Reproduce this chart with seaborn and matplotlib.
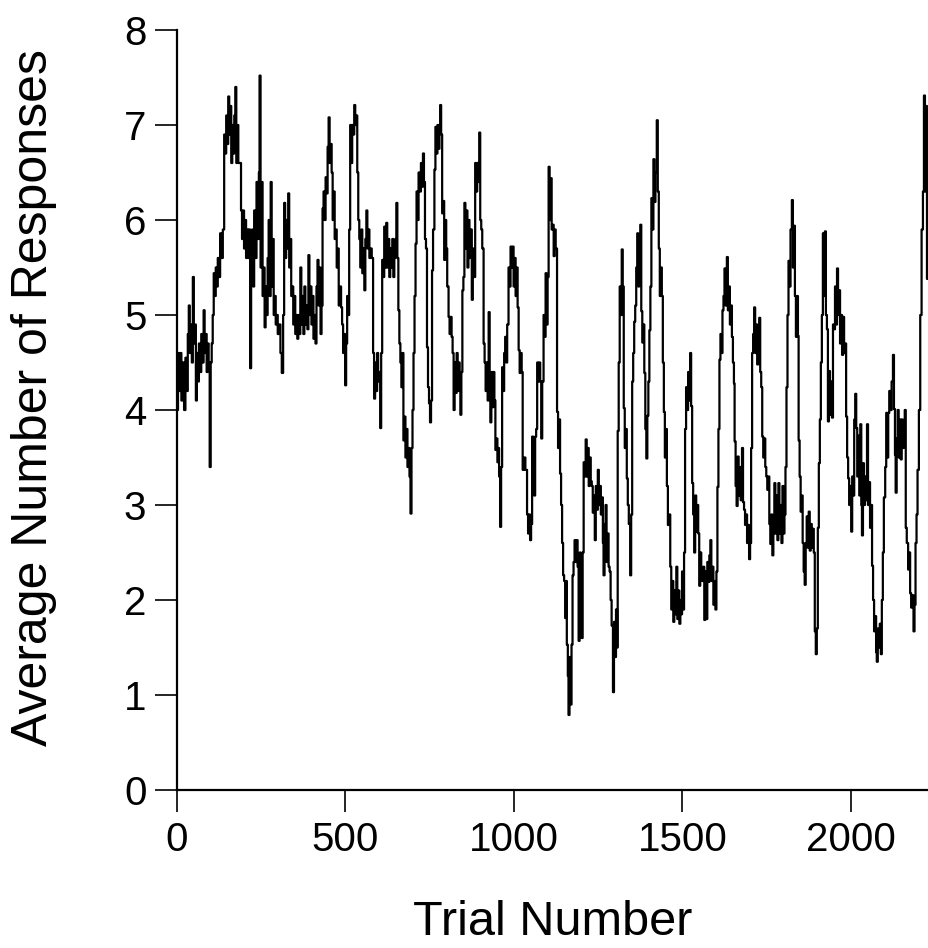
import matplotlib
matplotlib.use("Agg")
import matplotlib.pyplot as plt
import seaborn as sns
import pandas as pd

# ---- data (trial number, average number of responses) ----
trials_a = [0, 3, 7, 10, 13, 17, 21, 25, 29, 32, 35, 38, 41, 44, 47, 50, 53, 56, 59, 62, 65, 68, 72, 75, 79, 82, 85, 88, 91, 94, 97, 100, 103, 106, 109, 112, 115, 118, 121, 124, 128, 132, 136, 140, 143, 146, 149, 152, 155, 158, 161, 164, 167, 170, 173, 176, 179, 182, 186, 190, 193, 196, 199, 202, 205, 208, 211, 214, 217, 220, 223, 226, 229, 232, 236, 240, 243, 245, 248, 251, 254, 257, 260, 263, 266, 269, 272, 275, 278, 281, 284, 287, 290, 293, 296, 299, 303, 307, 311, 315, 318, 321, 324, 327, 330, 333, 336, 339, 342, 345, 348, 351, 354, 357, 360, 363]
resp_a = [4.0, 4.6, 4.2, 4.6, 4.1, 4.5, 4.0, 4.55, 4.2, 4.8, 5.1, 4.6, 4.9, 4.5, 5.4, 4.7, 4.9, 4.1, 4.6, 4.3, 4.7, 4.4, 4.8, 4.5, 5.05, 4.6, 4.8, 4.4, 4.7, 4.5, 3.4, 4.5, 4.7, 5.0, 5.44, 5.2, 5.5, 5.3, 5.6, 5.4, 5.86, 5.6, 5.9, 6.9, 6.7, 7.1, 6.8, 7.3, 6.9, 7.2, 6.6, 7.0, 6.7, 7.1, 7.4, 6.6, 7.0, 6.6, 6.6, 6.1, 5.8, 6.1, 5.7, 6.0, 5.6, 5.9, 5.6, 5.9, 4.44, 5.6, 5.9, 5.3, 6.1, 5.6, 6.4, 5.8, 6.5, 7.52, 5.5, 6.4, 5.2, 5.5, 4.87, 5.3, 5.0, 5.6, 6.0, 5.2, 6.4, 5.3, 5.8, 5.0, 5.2, 4.9, 5.0, 4.8, 4.9, 4.6, 4.39, 5.0, 6.18, 5.6, 6.0, 5.7, 6.28, 5.5, 5.8, 5.2, 5.3, 4.9, 5.2, 4.8, 5.0, 4.75, 5.0, 4.8]

trials_b = [366, 369, 372, 375, 378, 381, 384, 387, 390, 393, 396, 399, 402, 405, 408, 411, 414, 417, 420, 423, 426, 429, 432, 435, 438, 441, 444, 447, 450, 453, 456, 459, 462, 465, 468, 471, 474, 477, 480, 483, 487, 490, 493, 496, 499, 502, 505, 508, 511, 514, 517, 520, 523, 526, 529, 532, 535, 538, 541, 544, 547, 550, 553, 556, 559, 562, 565, 568, 571, 574, 578, 582, 585, 588, 591, 594, 597, 600, 603, 606, 609, 612, 615, 618, 621, 624, 627, 630, 633, 636, 639, 642, 645, 648, 651, 654, 657, 660, 663, 666, 669, 672, 675, 678, 681, 684, 687, 690, 693, 696, 699, 702, 705, 708, 711, 714, 717, 720, 724, 727, 730]
resp_b = [5.5, 4.9, 5.2, 4.8, 5.3, 4.9, 5.1, 4.85, 5.63, 5.0, 5.3, 4.9, 5.2, 4.75, 5.0, 4.7, 5.3, 5.58, 5.1, 5.5, 4.8, 5.1, 6.12, 6.3, 6.0, 6.45, 6.28, 6.77, 7.08, 6.6, 6.8, 6.5, 6.0, 6.3, 5.8, 5.9, 5.5, 5.7, 5.1, 5.3, 5.08, 4.9, 4.6, 4.8, 4.26, 4.7, 5.2, 5.0, 5.9, 7.0, 6.6, 7.0, 6.9, 7.21, 7.0, 7.1, 6.5, 6.0, 5.8, 5.5, 5.9, 5.44, 5.7, 5.26, 5.8, 6.1, 5.7, 5.9, 5.6, 5.7, 5.6, 4.6, 4.12, 4.5, 4.2, 4.6, 4.3, 4.4, 3.81, 4.6, 5.58, 5.4, 5.93, 5.5, 5.97, 5.5, 5.8, 5.4, 5.7, 5.5, 5.8, 5.4, 5.6, 5.8, 6.18, 5.6, 5.05, 4.7, 4.5, 4.24, 4.6, 3.68, 3.93, 3.5, 3.8, 3.4, 3.6, 3.3, 2.91, 3.6, 4.0, 4.6, 5.2, 5.75, 6.3, 6.0, 6.5, 6.3, 6.6, 6.35, 6.7]

trials_c = [733, 736, 739, 742, 745, 748, 751, 754, 757, 760, 764, 767, 770, 773, 776, 779, 781, 784, 787, 790, 793, 796, 799, 802, 806, 809, 812, 815, 818, 821, 824, 827, 830, 833, 836, 839, 841, 844, 847, 850, 853, 856, 859, 862, 865, 868, 871, 875, 878, 881, 885, 888, 891, 894, 897, 900, 903, 906, 910, 913, 916, 919, 922, 925, 928, 930, 933, 936, 939, 942, 945, 948, 951, 954, 956, 959, 962, 965, 968, 971, 974, 977, 980, 984, 987, 990, 993, 996, 999, 1002, 1005, 1008, 1011, 1014, 1017, 1020, 1023, 1026, 1030, 1034, 1039, 1042, 1045, 1048, 1051, 1054, 1057, 1060, 1063, 1066, 1069, 1072, 1075, 1078, 1081, 1084, 1088, 1091, 1094, 1097, 1100]
resp_c = [6.4, 5.8, 5.7, 4.66, 4.24, 4.07, 3.87, 4.1, 5.47, 5.9, 6.53, 6.98, 6.7, 7.0, 6.75, 7.0, 7.21, 6.9, 6.07, 6.2, 5.58, 6.0, 5.7, 5.3, 4.98, 4.8, 4.98, 4.77, 4.6, 4.0, 4.5, 4.18, 4.6, 4.2, 4.5, 4.25, 3.95, 4.4, 5.26, 5.4, 6.18, 5.7, 6.1, 5.5, 6.0, 5.6, 5.9, 5.16, 5.7, 5.4, 6.6, 6.3, 6.6, 6.4, 6.92, 6.0, 5.9, 5.7, 4.7, 4.5, 4.2, 4.5, 4.1, 5.03, 4.3, 3.87, 4.4, 4.03, 4.4, 4.1, 3.58, 3.7, 3.45, 3.6, 3.3, 2.77, 3.4, 4.45, 4.2, 4.6, 4.77, 4.5, 4.9, 5.5, 5.3, 5.72, 5.5, 5.72, 5.3, 5.6, 5.2, 5.5, 5.08, 4.63, 4.39, 4.6, 4.4, 3.37, 3.5, 3.37, 2.9, 2.7, 2.9, 2.63, 2.8, 3.72, 3.3, 3.1, 3.72, 3.8, 4.5, 4.3, 4.5, 4.3, 3.7, 4.3, 5.0, 4.77, 5.44, 4.9, 5.4]

trials_d = [1103, 1106, 1109, 1112, 1115, 1118, 1121, 1124, 1128, 1131, 1134, 1137, 1140, 1143, 1146, 1149, 1152, 1155, 1157, 1160, 1162, 1165, 1168, 1171, 1174, 1177, 1180, 1183, 1186, 1189, 1192, 1195, 1198, 1201, 1204, 1207, 1210, 1213, 1216, 1219, 1222, 1225, 1228, 1231, 1234, 1237, 1240, 1243, 1246, 1249, 1252, 1255, 1258, 1261, 1264, 1266, 1269, 1272, 1275, 1278, 1281, 1284, 1287, 1290, 1294, 1297, 1300, 1303, 1306, 1308, 1311, 1314, 1317, 1320, 1323, 1326, 1329, 1332, 1335, 1338, 1341, 1345, 1348, 1351, 1354, 1357, 1360, 1363, 1366, 1369, 1372, 1375, 1378, 1381, 1384, 1387, 1390, 1393, 1396, 1399, 1402, 1405, 1408, 1411, 1414, 1417, 1420, 1424, 1427, 1430, 1433, 1436, 1439, 1442, 1445, 1448, 1451, 1454, 1457, 1460, 1464, 1467, 1470, 1473, 1476, 1479]
resp_d = [6.56, 6.0, 6.44, 5.9, 5.95, 5.62, 5.9, 5.7, 3.98, 3.6, 3.9, 3.33, 3.0, 2.6, 2.26, 2.2, 1.81, 2.2, 1.53, 1.2, 0.79, 1.4, 0.9, 1.53, 2.26, 2.4, 2.63, 2.4, 2.63, 2.35, 1.57, 2.5, 2.2, 1.6, 2.5, 3.45, 3.3, 3.69, 3.3, 3.6, 3.2, 3.5, 3.25, 3.2, 2.92, 3.1, 2.63, 3.2, 2.95, 3.37, 3.0, 3.2, 2.9, 3.08, 2.6, 2.26, 2.8, 3.0, 2.4, 2.7, 2.35, 2.3, 2.0, 1.73, 1.03, 1.77, 1.4, 1.9, 1.5, 3.78, 4.5, 5.3, 5.0, 5.69, 5.3, 4.02, 3.6, 3.8, 3.28, 3.0, 2.8, 2.26, 2.9, 4.3, 4.6, 4.93, 5.1, 5.5, 5.86, 5.3, 5.6, 5.95, 5.04, 4.71, 4.9, 4.39, 3.8, 3.49, 3.94, 4.3, 4.84, 5.3, 6.23, 5.9, 6.64, 6.19, 6.5, 7.05, 6.3, 5.7, 5.2, 5.5, 5.2, 4.5, 3.98, 3.5, 3.8, 3.2, 2.79, 2.9, 2.35, 1.9, 2.2, 1.77, 2.1, 1.85]

trials_e = [1482, 1485, 1488, 1491, 1494, 1497, 1499, 1502, 1505, 1508, 1511, 1514, 1517, 1520, 1523, 1526, 1529, 1532, 1535, 1538, 1541, 1544, 1547, 1550, 1553, 1556, 1559, 1562, 1565, 1568, 1571, 1574, 1577, 1580, 1583, 1586, 1589, 1592, 1595, 1598, 1601, 1604, 1607, 1610, 1613, 1616, 1619, 1622, 1625, 1628, 1632, 1635, 1638, 1641, 1644, 1647, 1650, 1653, 1655, 1658, 1661, 1664, 1667, 1670, 1673, 1677, 1680, 1683, 1686, 1689, 1692, 1695, 1698, 1701, 1704, 1707, 1710, 1713, 1716, 1719, 1722, 1725, 1728, 1731, 1734, 1737, 1740, 1743, 1746, 1749, 1752, 1755, 1758, 1761, 1764, 1767, 1770, 1773, 1776, 1779, 1782, 1785, 1788, 1791, 1794, 1797, 1800, 1803, 1806, 1809, 1812, 1815, 1818, 1821, 1825, 1828, 1831, 1834, 1837]
resp_e = [2.35, 1.8, 2.1, 1.75, 2.0, 1.85, 2.3, 1.9, 2.5, 3.8, 4.24, 4.0, 4.4, 4.1, 4.6, 4.04, 3.23, 2.9, 2.5, 3.1, 2.72, 3.0, 2.7, 2.15, 2.5, 2.3, 2.2, 2.35, 1.79, 2.3, 1.8, 2.4, 2.19, 2.47, 2.63, 2.2, 2.35, 1.95, 2.2, 1.9, 2.3, 3.19, 3.8, 4.53, 4.8, 4.6, 5.05, 5.2, 5.49, 5.1, 5.61, 5.05, 5.3, 4.9, 5.1, 4.77, 4.5, 4.28, 3.67, 3.2, 2.99, 3.51, 3.1, 3.4, 3.05, 3.6, 3.03, 2.95, 2.79, 2.9, 2.6, 2.79, 2.43, 2.6, 3.6, 4.6, 4.8, 5.08, 4.6, 4.9, 4.48, 4.7, 4.97, 4.4, 4.24, 3.72, 3.5, 3.7, 3.4, 3.3, 3.16, 3.3, 2.8, 2.59, 2.9, 2.47, 2.7, 3.23, 2.7, 3.1, 2.63, 3.23, 2.7, 3.0, 2.6, 3.2, 2.7, 2.9, 3.4, 4.24, 5.0, 5.57, 5.3, 5.9, 6.21, 5.5, 5.94, 5.2, 4.77]

trials_f = [1840, 1843, 1845, 1848, 1851, 1854, 1857, 1860, 1863, 1866, 1869, 1872, 1875, 1878, 1881, 1884, 1887, 1890, 1893, 1896, 1899, 1902, 1905, 1908, 1911, 1914, 1917, 1920, 1923, 1926, 1929, 1932, 1935, 1938, 1941, 1944, 1947, 1950, 1953, 1956, 1959, 1962, 1965, 1968, 1971, 1974, 1977, 1980, 1983, 1986, 1989, 1992, 1995, 1998, 2001, 2004, 2007, 2010, 2013, 2016, 2019, 2022, 2025, 2028, 2031, 2033, 2036, 2039, 2042, 2045, 2048, 2051, 2054, 2057, 2060, 2063, 2066, 2069, 2072, 2075, 2077, 2080, 2083, 2086, 2089, 2092, 2095, 2098, 2102, 2105, 2108, 2111, 2114, 2118, 2121, 2125, 2128, 2131, 2133, 2136, 2139, 2142, 2145, 2148, 2151, 2154, 2157, 2160, 2163, 2166, 2170, 2173, 2176, 2179, 2182, 2186, 2189, 2192, 2195, 2198, 2202, 2206, 2210, 2214, 2217, 2220, 2223, 2226, 2229, 2232]
resp_f = [5.2, 4.78, 3.68, 3.3, 2.93, 3.1, 2.6, 2.3, 2.16, 2.6, 2.88, 2.55, 2.93, 2.52, 2.8, 2.55, 2.75, 2.5, 1.67, 1.43, 1.7, 2.76, 3.44, 3.9, 4.5, 5.0, 5.86, 5.2, 5.88, 5.0, 4.85, 3.88, 4.41, 3.95, 4.3, 3.92, 4.9, 4.85, 5.3, 4.9, 5.49, 5.0, 5.26, 4.7, 5.0, 4.58, 4.98, 4.6, 4.7, 3.93, 3.5, 3.28, 3.0, 3.2, 2.72, 3.3, 3.1, 3.9, 4.17, 3.81, 3.3, 3.73, 3.1, 3.85, 3.0, 2.68, 3.44, 3.0, 3.3, 3.05, 3.85, 3.0, 3.24, 2.76, 3.0, 2.36, 2.0, 1.67, 1.83, 1.45, 1.35, 1.7, 1.5, 1.75, 1.43, 2.0, 2.5, 3.08, 3.4, 3.97, 3.5, 3.97, 4.2, 4.0, 4.3, 4.58, 4.01, 3.53, 3.13, 3.7, 4.0, 3.5, 3.9, 3.48, 3.9, 3.6, 3.7, 4.0, 2.76, 2.6, 2.32, 2.5, 2.07, 1.92, 2.05, 1.67, 1.95, 2.6, 2.9, 3.37, 4.0, 5.0, 5.9, 6.3, 7.31, 6.3, 7.2, 5.38, 7.0, 6.3]

x_ticks = [0, 500, 1000, 1500, 2000]
y_ticks = [0, 1, 2, 3, 4, 5, 6, 7, 8]
x_label = "Trial Number"
y_label = "Average Number of Responses"

df = pd.DataFrame({
    "trial": trials_a + trials_b + trials_c + trials_d + trials_e + trials_f,
    "responses": resp_a + resp_b + resp_c + resp_d + resp_e + resp_f,
})

sns.set_style("ticks")
plt.rcParams["font.family"] = ["Liberation Sans", "DejaVu Sans"]

W, H = 929, 948
fig = plt.figure(figsize=(W / 100, H / 100), dpi=100)
ax = fig.add_axes([177 / W, 1 - 790 / H, (W - 177) / W, (790 - 30) / H])

sns.lineplot(data=df, x="trial", y="responses", ax=ax, color="black",
             linewidth=1.6, estimator=None, drawstyle="steps-post")

ax.set_xlim(0, 2232)
ax.set_ylim(0, 8)
ax.set_xticks(x_ticks)
ax.set_yticks(y_ticks)
sns.despine(ax=ax)
for side in ("left", "bottom"):
    ax.spines[side].set_linewidth(1.6)
    ax.spines[side].set_color("black")
ax.tick_params(direction="out", length=16, width=1.2, colors="black",
               labelcolor="black", labelsize=29, pad=6)
ax.set_xlabel(x_label, fontsize=35, labelpad=30, color="black")
ax.set_ylabel(y_label, fontsize=36, color="black")
ax.yaxis.set_label_coords(-0.16, 0.517)
ax.grid(False)

fig.savefig("out.png", dpi=100)
